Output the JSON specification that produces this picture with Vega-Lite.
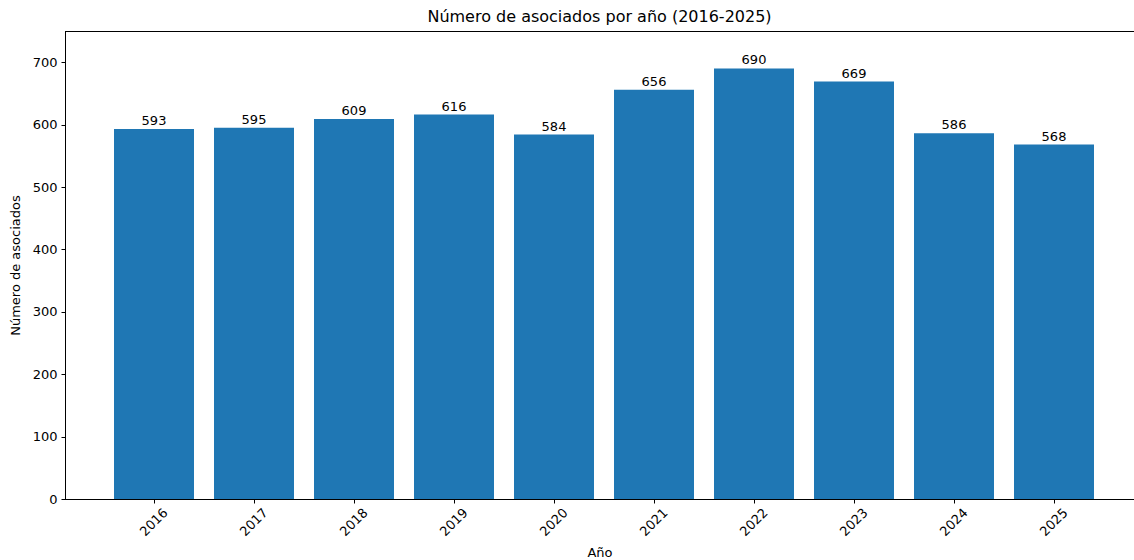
{
  "$schema": "https://vega.github.io/schema/vega-lite/v6.json",
  "autosize": {"type": "none"},
  "padding": {"left": 65, "top": 31, "right": 0, "bottom": 61},
  "width": 1069,
  "height": 468,
  "background": "white",
  "config": {
    "font": "DejaVu Sans",
    "view": {"stroke": null},
    "axis": {"grid": false, "domainColor": "black", "tickColor": "black", "labelColor": "black", "titleColor": "black", "labelFont": "DejaVu Sans", "titleFont": "DejaVu Sans", "titleFontWeight": "normal", "tickSize": 4, "domainWidth": 1, "tickWidth": 1}
  },
  "title": {"text": "Número de asociados por año (2016-2025)", "fontSize": 16, "fontWeight": "normal", "font": "DejaVu Sans", "color": "black", "offset": 6},
  "data": {"values": [
    {"anio": 2016, "asociados": 593},
    {"anio": 2017, "asociados": 595},
    {"anio": 2018, "asociados": 609},
    {"anio": 2019, "asociados": 616},
    {"anio": 2020, "asociados": 584},
    {"anio": 2021, "asociados": 656},
    {"anio": 2022, "asociados": 690},
    {"anio": 2023, "asociados": 669},
    {"anio": 2024, "asociados": 586},
    {"anio": 2025, "asociados": 568}
  ]},
  "layer": [
    {
      "mark": {"type": "bar", "color": "#1f77b4", "size": 80},
      "encoding": {
        "x": {"field": "anio", "type": "quantitative", "scale": {"domain": [2015.11, 2025.8], "nice": false, "zero": false, "padding": 0},
          "axis": {"title": "Año", "domain": false, "values": [2016, 2017, 2018, 2019, 2020, 2021, 2022, 2023, 2024, 2025], "format": "d", "labelAngle": -45, "labelAlign": "right", "labelBaseline": "top", "labelFontSize": 13, "titleFontSize": 13, "labelPadding": 3, "labelOffset": 7, "titlePadding": 8}},
        "y": {"field": "asociados", "type": "quantitative", "scale": {"domain": [0, 750], "nice": false},
          "axis": {"title": "Número de asociados", "values": [0, 100, 200, 300, 400, 500, 600, 700], "labelFontSize": 13, "titleFontSize": 13, "labelPadding": 4, "titlePadding": 10}}
      }
    },
    {
      "mark": {"type": "text", "baseline": "bottom", "dy": -1, "fontSize": 13, "color": "black", "font": "DejaVu Sans"},
      "encoding": {
        "x": {"field": "anio", "type": "quantitative"},
        "y": {"field": "asociados", "type": "quantitative"},
        "text": {"field": "asociados", "type": "quantitative", "format": "d"}
      }
    },
    {
      "mark": {"type": "rule", "color": "black", "strokeWidth": 1, "yOffset": 0.5},
      "encoding": {"y": {"datum": 750}}
    },
    {
      "mark": {"type": "rule", "color": "black", "strokeWidth": 1, "yOffset": 0.5},
      "encoding": {"y": {"datum": 0}}
    }
  ]
}
